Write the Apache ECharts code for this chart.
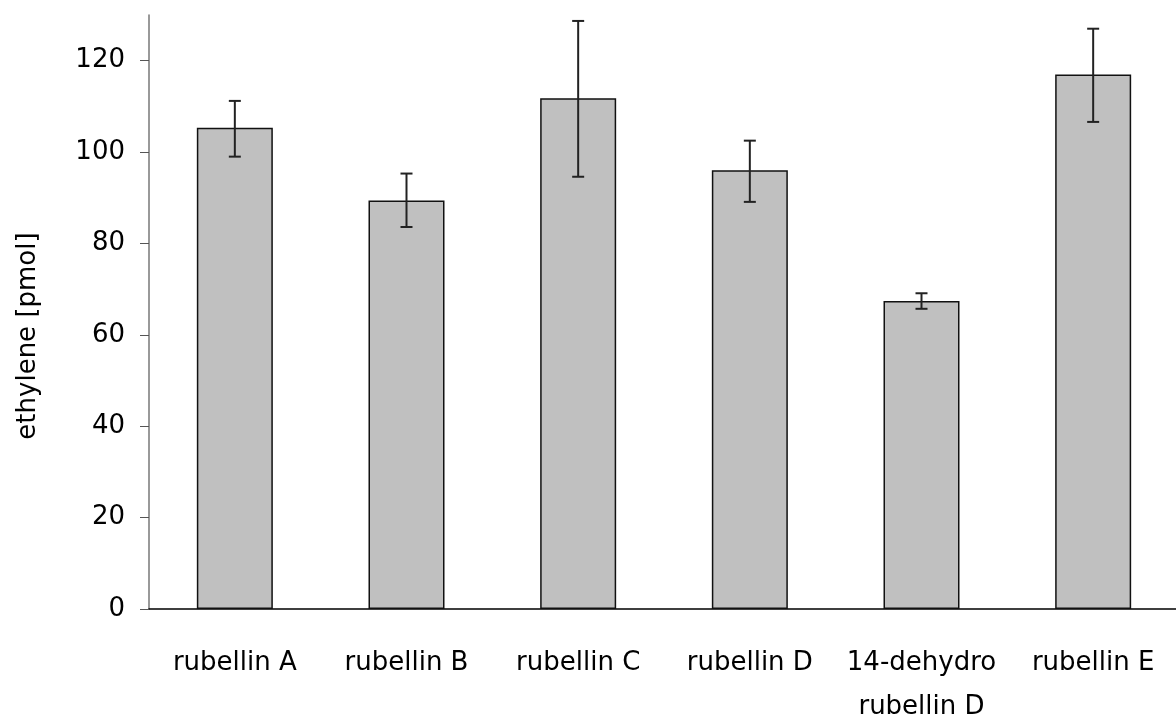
<!DOCTYPE html>
<html>
<head>
<meta charset="utf-8">
<script src="https://cdn.jsdelivr.net/npm/echarts@6/dist/echarts.min.js"></script>
<style>
    html, body {margin: 0; padding: 0; background: #fff;}
    #chart {width: 1176px; height: 720px;}
</style>
</head>
<body>
<div id="chart"></div>
<script>
const categories = ['rubellin A', 'rubellin B', 'rubellin C', 'rubellin D', '14-dehydro\nrubellin D', 'rubellin E'];
const means = [105.3, 89.4, 111.8, 96.0, 67.4, 117.0];
const errLow = [99.0, 83.6, 94.6, 89.1, 65.7, 106.6];
const errHigh = [111.2, 95.3, 128.7, 102.5, 69.1, 127.0];
const yTicks = [0, 20, 40, 60, 80, 100, 120];

const font = 'DejaVu Sans';
const chart = echarts.init(document.getElementById('chart'), null, {renderer: 'canvas'});

function renderErrorBar(params, api) {
    const i = api.value(0);
    const lo = api.coord([i, api.value(1)]);
    const hi = api.coord([i, api.value(2)]);
    const cap = 6;
    const style = {stroke: '#222', lineWidth: 2};
    return {
        type: 'group',
        children: [{
            type: 'line',
            shape: {x1: hi[0], y1: hi[1], x2: lo[0], y2: lo[1]},
            style,
        }, {
            type: 'line',
            shape: {x1: hi[0] - cap, y1: hi[1], x2: hi[0] + cap, y2: hi[1]},
            style,
        }, {
            type: 'line',
            shape: {x1: lo[0] - cap, y1: lo[1], x2: lo[0] + cap, y2: lo[1]},
            style,
        }],
    };
}

chart.setOption({
    animation: false,
    backgroundColor: '#fff',
    grid: {
        left: 149,
        right: -3,
        top: 15,
        bottom: 111,
        outerBoundsMode: 'none',
    },
    xAxis: {
        type: 'category',
        data: categories,
        axisLine: {lineStyle: {color: '#000', width: 1.5}},
        axisTick: {length: 9, lineStyle: {color: '#333'}},
        axisLabel: {
            color: '#000',
            fontFamily: font,
            fontSize: 26,
            lineHeight: 44,
            margin: 32,
            interval: 0,
        },
        splitLine: {show: false},
    },
    yAxis: {
        type: 'value',
        min: 0,
        max: 130,
        interval: 20,
        name: 'ethylene [pmol]',
        nameLocation: 'middle',
        nameGap: 108,
        nameTextStyle: {color: '#000', fontFamily: font, fontSize: 26, padding: [0, 48, 0, 0]},
        axisLine: {show: true, lineStyle: {color: '#777', width: 1.5}},
        axisTick: {show: true, length: 9, customValues: yTicks, lineStyle: {color: '#555'}},
        axisLabel: {
            color: '#000',
            fontFamily: font,
            fontSize: 26,
            margin: 24,
            customValues: yTicks,
        },
        splitLine: {show: false},
    },
    series: [{
        type: 'bar',
        data: means,
        barWidth: 76,
        itemStyle: {color: '#c0c0c0', borderColor: '#111', borderWidth: 1.5},
        emphasis: {disabled: true},
    }, {
        type: 'custom',
        renderItem: renderErrorBar,
        data: categories.map((c, i) => [i, errLow[i], errHigh[i]]),
        encode: {x: 0, y: [1, 2]},
        z: 10,
    }],
});
</script>
</body>
</html>
